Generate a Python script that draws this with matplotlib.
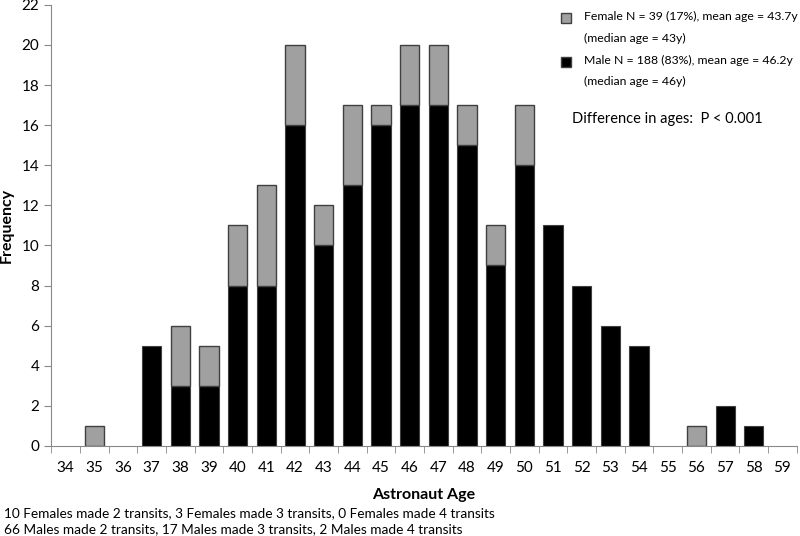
import matplotlib
matplotlib.use("Agg")
import matplotlib.pyplot as plt
from matplotlib.patches import Rectangle
import numpy as np

plt.rcParams['font.family'] = ['Lato', 'DejaVu Sans']

ages = list(range(34, 60))
male = [0, 0, 0, 5, 3, 3, 8, 8, 16, 10, 13, 16, 17, 17, 15, 9, 14, 11, 8, 6, 5, 0, 0, 2, 1, 0]
female = [0, 1, 0, 0, 3, 2, 3, 5, 4, 2, 4, 1, 3, 3, 2, 2, 3, 0, 0, 0, 0, 0, 1, 0, 0, 0]

female_label = ["Female N = 39 (17%), mean age = 43.7y", "(median age = 43y)"]
male_label = ["Male N = 188 (83%), mean age = 46.2y", "(median age = 46y)"]
p_text = "Difference in ages:  P < 0.001"
notes = ["10 Females made 2 transits, 3 Females made 3 transits, 0 Females made 4 transits",
         "66 Males made 2 transits, 17 Males made 3 transits, 2 Males made 4 transits"]

male_col = "black"
female_col = "#a0a0a0"
edge = "#404040"

fig = plt.figure(figsize=(8, 5.36), dpi=100)
ax = fig.add_axes([0.064, 0.168, 0.932, 0.823])

x = np.arange(len(ages))
male_arr = np.array(male)
female_arr = np.array(female)
m = male_arr > 0
ax.bar(x[m], male_arr[m], width=0.67, color=male_col, edgecolor=edge, linewidth=0.8)
f = female_arr > 0
ax.bar(x[f], female_arr[f], width=0.67, bottom=male_arr[f], color=female_col,
       edgecolor=edge, linewidth=1.0)

ax.set_xlim(-0.5, len(ages) - 0.5)
ax.set_ylim(0, 22)
ax.set_yticks(range(0, 23, 2))
ax.set_xticks(x)
ax.set_xticklabels([str(a) for a in ages])
ax.set_xticks(np.arange(-0.5, len(ages)), minor=True)
ax.tick_params(axis='x', which='major', length=0, pad=11, labelsize=11)
ax.tick_params(axis='x', which='minor', length=5, color='#888888', direction='out')
ax.tick_params(axis='y', length=5, color='#888888', labelsize=11, direction='out')

for s in ['top', 'right']:
    ax.spines[s].set_visible(False)
for s in ['left', 'bottom']:
    ax.spines[s].set_color('#888888')

ax.set_xlabel("Astronaut Age", fontweight='bold', fontsize=11.5, labelpad=9)
ax.set_ylabel("Frequency", fontweight='bold', fontsize=11.5, labelpad=6)

# legend drawn by hand to match two-line entries
fig.patches.append(Rectangle((561 / 800, 1 - 23 / 536), 10 / 800, 10 / 536,
                             transform=fig.transFigure, facecolor=female_col,
                             edgecolor=edge, linewidth=1))
fig.patches.append(Rectangle((561 / 800, 1 - 67 / 536), 10 / 800, 10 / 536,
                             transform=fig.transFigure, facecolor=male_col,
                             edgecolor=edge, linewidth=1))
fig.text(584 / 800, 1 - 16 / 536, female_label[0], fontsize=8.8, va='center')
fig.text(584 / 800, 1 - 38 / 536, female_label[1], fontsize=8.8, va='center')
fig.text(584 / 800, 1 - 60 / 536, male_label[0], fontsize=8.8, va='center')
fig.text(584 / 800, 1 - 81 / 536, male_label[1], fontsize=8.8, va='center')
fig.text(572 / 800, 1 - 119 / 536, p_text, fontsize=10.5, va='center')

fig.text(4 / 800, 1 - 513 / 536, notes[0], fontsize=9.8, va='center')
fig.text(4 / 800, 1 - 529 / 536, notes[1], fontsize=9.8, va='center')

fig.savefig("out.png", dpi=100)
